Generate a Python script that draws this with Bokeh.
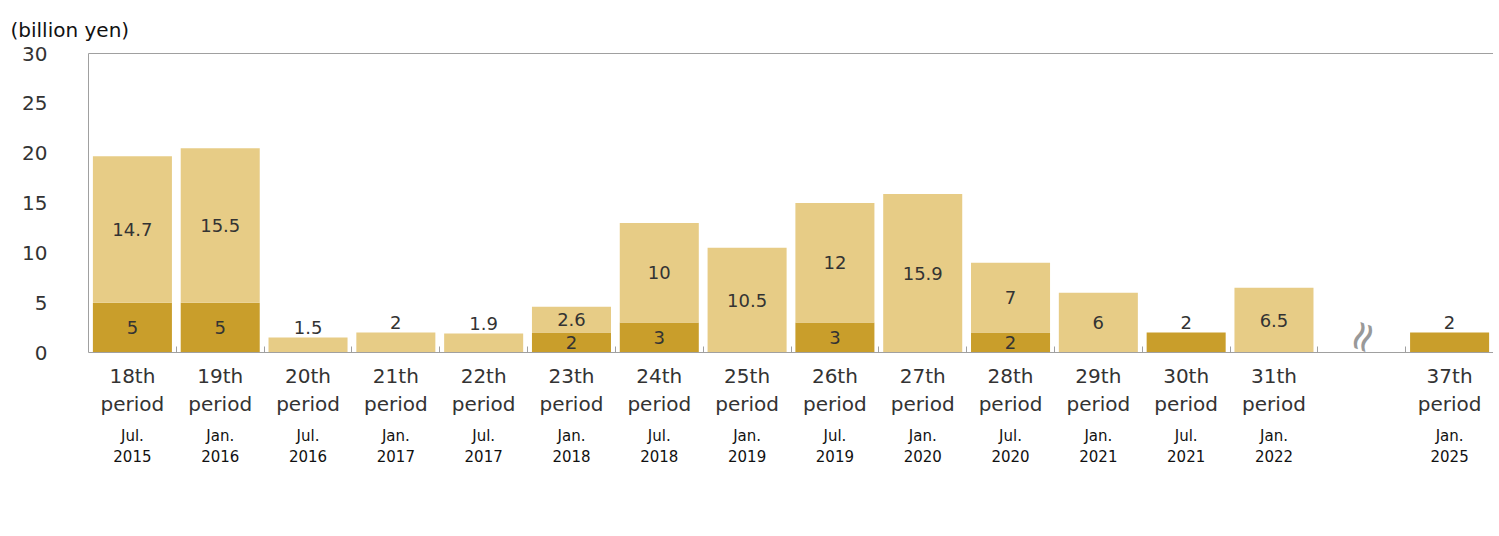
import math
from bokeh.plotting import figure
from bokeh.models import (Range1d, LinearAxis, FixedTicker, Legend, LegendItem, Title, Label,
                          ColumnDataSource)
from bokeh.core.properties import value
from bokeh.embed import file_html
from bokeh.resources import INLINE

# ---- data ----
periods = ["18th", "19th", "20th", "21th", "22th", "23th", "24th", "25th", "26th", "27th",
           "28th", "29th", "30th", "31th", "gap", "37th"]
dates = ["Jul.\n2015", "Jan.\n2016", "Jul.\n2016", "Jan.\n2017", "Jul.\n2017", "Jan.\n2018",
         "Jul.\n2018", "Jan.\n2019", "Jul.\n2019", "Jan.\n2020", "Jul.\n2020", "Jan.\n2021",
         "Jul.\n2021", "Jan.\n2022", "", "Jan.\n2025"]
long_term = [14.7, 15.5, 1.5, 2, 1.9, 2.6, 10, 10.5, 12, 15.9, 7, 6, 0, 6.5, 0, 0]
bonds = [5, 5, 0, 0, 0, 2, 3, 0, 3, 0, 2, 0, 2, 0, 0, 2]
y_ticks = [0, 5, 10, 15, 20, 25, 30]

LIGHT = "#E7CC86"
DARK = "#C99E2B"
FONT = "DejaVu Sans"
GRAY = "#A0A0A0"

n = len(periods)
xs = [i + 0.5 for i in range(n)]
src = ColumnDataSource(dict(x=xs, bonds=bonds, long_term=long_term))

p = figure(frame_width=1405, frame_height=299, x_range=Range1d(0, n), y_range=Range1d(0, 30),
           output_backend="svg", toolbar_location=None, x_axis_location=None,
           min_border_left=88, min_border_top=53, min_border_right=0, min_border_bottom=0)
p.xgrid.grid_line_color = None
p.ygrid.grid_line_color = None
p.outline_line_color = None

rs = p.vbar_stack(["bonds", "long_term"], x="x", width=0.9, color=[DARK, LIGHT],
                  line_color=None, source=src)

# value labels
lx, ly, lt, lb = [], [], [], []
for xv, lt_v, b_v in zip(xs, long_term, bonds):
    if b_v > 0:
        lx.append(xv)
        lt.append(f"{b_v:g}")
        if lt_v > 0:
            ly.append(b_v / 2); lb.append("middle")
        else:
            ly.append(b_v + 0.4); lb.append("bottom")
    if lt_v > 0:
        lx.append(xv)
        lt.append(f"{lt_v:g}")
        if lt_v >= 2.5:
            ly.append(b_v + lt_v / 2); lb.append("middle")
        else:
            ly.append(b_v + lt_v + 0.4); lb.append("bottom")
p.text(x=lx, y=ly, text=lt, text_baseline=lb, text_align="center",
       text_font=value(FONT), text_font_size="18px", text_color="#333333")

# y axis
p.yaxis.ticker = FixedTicker(ticks=y_ticks)
p.yaxis.axis_line_color = GRAY
p.yaxis.major_tick_line_color = None
p.yaxis.minor_tick_line_color = None
p.yaxis.major_label_text_font = FONT
p.yaxis.major_label_text_font_size = "20px"
p.yaxis.major_label_text_color = "#333333"
p.yaxis.major_label_standoff = 35

# top frame line
top = LinearAxis(axis_line_color=GRAY, major_tick_line_color=None,
                 minor_tick_line_color=None, ticker=FixedTicker(ticks=[]))
p.add_layout(top, "above")

# bottom axis: period labels, boundary ticks as minor ticks
per_labels = {xv: ("" if k == "gap" else k + "\nperiod") for xv, k in zip(xs, periods)}
ax1 = LinearAxis(axis_line_color=GRAY, major_tick_line_color=None,
                 ticker=FixedTicker(ticks=xs, minor_ticks=list(range(1, n))),
                 minor_tick_in=6, minor_tick_out=0, minor_tick_line_color=GRAY,
                 major_label_text_font=FONT, major_label_text_font_size="20px",
                 major_label_text_color="#333333", major_label_standoff=5,
                 major_label_overrides=per_labels)
p.add_layout(ax1, "below")

date_labels = dict(zip(xs, dates))
ax2 = LinearAxis(axis_line_color=None, major_tick_line_color=None, minor_tick_line_color=None,
                 ticker=FixedTicker(ticks=xs),
                 major_label_text_font=FONT, major_label_text_font_size="15px",
                 major_label_text_color="#111111", major_label_standoff=1,
                 major_label_overrides=date_labels)
p.add_layout(ax2, "below")

# axis-break mark, just above the axis line in the gap slot
gi = periods.index("gap")
p.add_layout(Label(x=xs[gi], y=1.6, text="≈", angle=math.pi / 2 - 0.35, text_align="center",
                   text_baseline="middle", text_font=FONT, text_font_size="42px",
                   text_color="#999999"))

# title
p.add_layout(Title(text="(billion yen)", align="left", offset=-78, standoff=24, text_font=FONT,
                   text_font_size="20px", text_font_style="normal", text_color="#111111"),
             "above")

legend = Legend(items=[LegendItem(label="Long-term", renderers=[rs[1]]),
                       LegendItem(label="Investment corporation bonds", renderers=[rs[0]])],
                orientation="horizontal", location="center", border_line_color=None,
                background_fill_alpha=0, label_text_font=FONT, label_text_font_size="20px",
                label_text_color="#111111", glyph_width=14, glyph_height=14,
                spacing=14, label_standoff=8, padding=0, margin=0)
p.add_layout(legend, "below")

open("out.html", "w").write(file_html(p, INLINE))
